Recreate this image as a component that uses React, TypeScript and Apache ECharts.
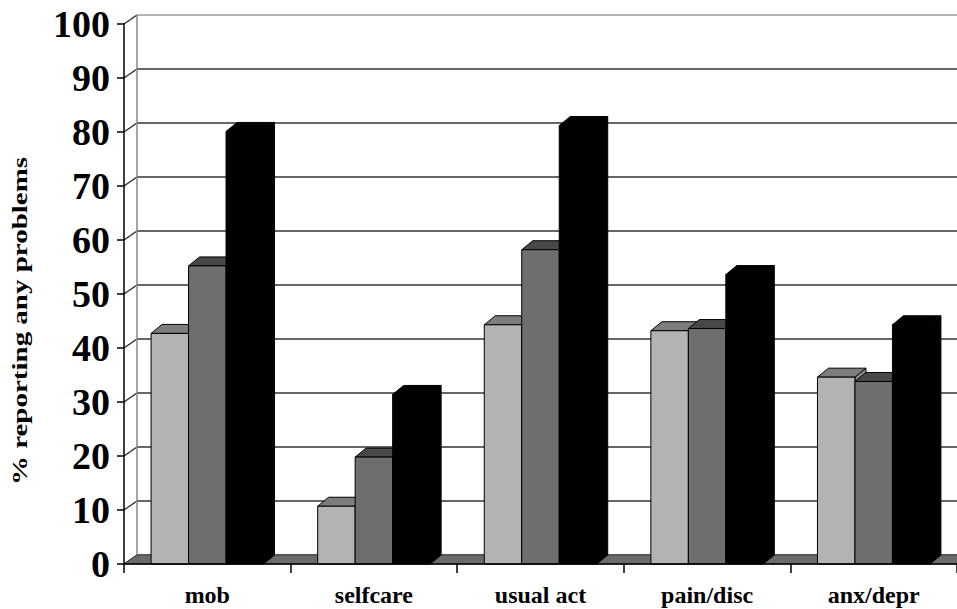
import React, { useEffect, useRef } from "react";
import * as echarts from "echarts";

const categories = ["mob", "selfcare", "usual act", "pain/disc", "anx/depr"];
const groupLight = [42.7, 10.7, 44.3, 43.2, 34.6];
const groupMedium = [55.2, 19.8, 58.2, 43.6, 33.8];
const groupDark = [80.1, 31.4, 81.2, 53.6, 44.3];
const yTicks = [0, 10, 20, 30, 40, 50, 60, 70, 80, 90, 100];

const WALL_DX = 13;
const WALL_DY = -9;
const BAR_DX = 11;
const BAR_DY = -9;
const BAR_RATIO = 0.225;
const SERIF = '"Liberation Serif", "Times New Roman", serif';

function barSeries(name: string, values: number[], idx: number, front: string, top: string, side: string) {
  return {
    type: "custom",
    name,
    z: 5,
    data: values.map((v, i) => [i, v]),
    encode: { x: 0, y: 1 },
    renderItem: (params: any, api: any) => {
      const ci = api.value(0);
      const v = api.value(1);
      const p = api.coord([ci, v]);
      const base = api.coord([ci, 0]);
      const band = api.size([1, 0])[0];
      const w = band * BAR_RATIO;
      const cx = p[0];
      const yTop = p[1];
      const yBase = base[1];
      const x0 = cx - 1.5 * w + idx * w;
      const x1 = x0 + w;
      const stroke = { stroke: "#000", lineWidth: 1 };
      return {
        type: "group",
        children: [
          {
            type: "polygon",
            shape: {
              points: [
                [x1, yTop],
                [x1 + BAR_DX, yTop + BAR_DY],
                [x1 + BAR_DX, yBase + BAR_DY],
                [x1, yBase],
              ],
            },
            style: { fill: side, ...stroke },
          },
          {
            type: "polygon",
            shape: {
              points: [
                [x0, yTop],
                [x0 + BAR_DX, yTop + BAR_DY],
                [x1 + BAR_DX, yTop + BAR_DY],
                [x1, yTop],
              ],
            },
            style: { fill: top, ...stroke },
          },
          {
            type: "rect",
            shape: { x: x0, y: yTop, width: w, height: yBase - yTop },
            style: { fill: front, ...stroke },
          },
        ],
      };
    },
  };
}

export default function App() {
  const ref = useRef<HTMLDivElement>(null);
  useEffect(() => {
    if (!ref.current) return;
    const chart = echarts.init(ref.current, null, { renderer: "svg" });
    const option: any = {
      animation: false,
      backgroundColor: "#fff",
      grid: {
        left: 124,
        right: 0,
        top: 24,
        bottom: 45,
        containLabel: false,
        outerBoundsMode: "none",
      },
      xAxis: {
        type: "category",
        data: categories,
        z: 10,
        axisLine: { show: true, lineStyle: { color: "#000", width: 1.5 } },
        axisTick: { show: true, length: 9, lineStyle: { color: "#000", width: 1.5 } },
        axisLabel: {
          margin: 19,
          color: "#000",
          fontFamily: SERIF,
          fontWeight: "bold",
          fontSize: 24,
        },
        splitLine: { show: false },
      },
      yAxis: {
        type: "value",
        min: 0,
        max: 100,
        interval: 10,
        z: 10,
        axisLine: { show: true, lineStyle: { color: "#000", width: 1.5 } },
        axisTick: { show: true, length: 7, lineStyle: { color: "#000", width: 1.5 } },
        axisLabel: {
          margin: 14,
          color: "#000",
          fontFamily: SERIF,
          fontWeight: "bold",
          fontSize: 38,
        },
        splitLine: { show: false },
      },
      graphic: [
        {
          type: "text",
          x: 20,
          y: 321,
          rotation: Math.PI / 2,
          scaleX: 1.45,
          style: {
            text: "% reporting any problems",
            font: 'bold 20px "Liberation Serif"',
            fill: "#000",
            align: "center",
            verticalAlign: "middle",
            textAlign: "center",
            textVerticalAlign: "middle",
          },
        },
      ],
      series: [
        {
          type: "custom",
          name: "wall",
          z: 1,
          silent: true,
          data: yTicks.map((t) => [0, t]),
          encode: { x: 0, y: 1 },
          renderItem: (params: any, api: any) => {
            const cs = params.coordSys;
            const t = api.value(1);
            const y = api.coord([0, t])[1];
            const isTop = t === yTicks[yTicks.length - 1];
            const color = isTop ? "#999" : "#333";
            const children: any[] = [
              {
                type: "line",
                shape: { x1: cs.x, y1: y, x2: cs.x + WALL_DX, y2: y + WALL_DY },
                style: { stroke: "#222", lineWidth: 1.2 },
              },
              {
                type: "line",
                shape: { x1: cs.x + WALL_DX, y1: y + WALL_DY, x2: cs.x + cs.width + WALL_DX, y2: y + WALL_DY },
                style: { stroke: color, lineWidth: 1.6 },
              },
            ];
            if (isTop) {
              const yb = api.coord([0, yTicks[0]])[1];
              children.push({
                type: "line",
                shape: { x1: cs.x + WALL_DX, y1: y + WALL_DY, x2: cs.x + WALL_DX, y2: yb + WALL_DY },
                style: { stroke: "#888", lineWidth: 1.5 },
              });
            }
            return { type: "group", children };
          },
        },
        {
          type: "custom",
          name: "floor",
          z: 2,
          silent: true,
          data: [[0, 0]],
          encode: { x: 0, y: 1 },
          renderItem: (params: any, api: any) => {
            const cs = params.coordSys;
            const yb = api.coord([0, 0])[1];
            return {
              type: "polygon",
              shape: {
                points: [
                  [cs.x, yb],
                  [cs.x + cs.width, yb],
                  [cs.x + cs.width + WALL_DX, yb + WALL_DY],
                  [cs.x + WALL_DX, yb + WALL_DY],
                ],
              },
              style: { fill: "#6b6b6b", stroke: "#444", lineWidth: 1 },
            };
          },
        },
        barSeries("light", groupLight, 0, "#b3b3b3", "#7d7d7d", "#8a8a8a"),
        barSeries("medium", groupMedium, 1, "#6e6e6e", "#484848", "#505050"),
        barSeries("dark", groupDark, 2, "#000000", "#000000", "#000000"),
      ],
    };
    chart.setOption(option);
    return () => chart.dispose();
  }, []);
  return (
    <div
      ref={ref}
      style={{ position: "fixed", left: 0, top: 0, width: 957, height: 609 }}
    />
  );
}
